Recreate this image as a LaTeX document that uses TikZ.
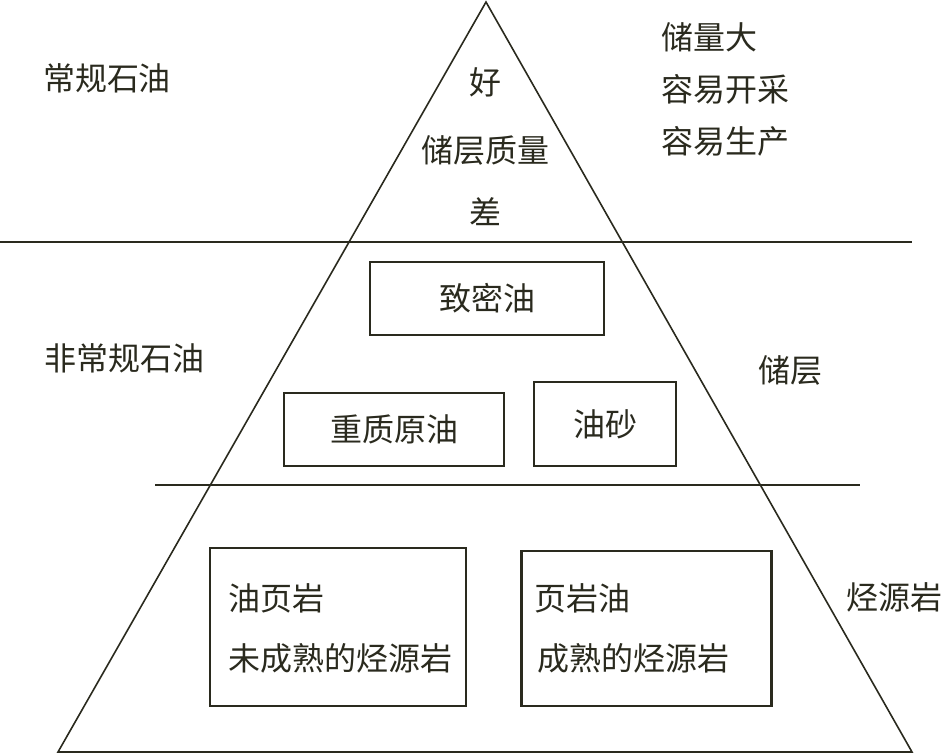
\documentclass[tikz,border=0pt]{standalone}
\usepackage{fontspec}
\setmainfont{Noto Sans CJK SC}
\usetikzlibrary{positioning}
\definecolor{ink}{HTML}{2A2A1E}

\begin{document}
\begin{tikzpicture}[x=1pt,y=-1pt,
  txt/.style={font=\fontsize{32}{38}\selectfont,text=ink,inner sep=0pt},
  oilbox/.style={draw=ink,line width=2.2pt,inner sep=0pt},
  layer/.style={draw=ink,line width=2pt}]
  \useasboundingbox (0,0) rectangle (946,755);
  % pyramid outline
  \coordinate (apex) at (486,2);
  \coordinate (baseL) at (58,752);
  \coordinate (baseR) at (912,752);
  \draw[ink,line width=1.6pt] (apex) -- (baseR) -- (baseL) -- cycle;
  % layer boundaries
  \coordinate (topL) at (0,242);
  \coordinate (topR) at (912,242);
  \coordinate (midL) at (155,485);
  \coordinate (midR) at (860,485);
  \draw[layer] (topL) -- (topR);
  \draw[layer] (midL) -- (midR);
  % conventional oil
  \node[txt] (conv) at (107,78) {常规石油};
  \node[txt] (good) at (485,82) {好};
  \node[txt] (quality) at (485,150) {储层质量};
  \node[txt] (poor) at (485,212) {差};
  \node[txt,anchor=west] (large) at (661,37) {储量大};
  \node[txt,anchor=west] (easyex) at (661,89) {容易开采};
  \node[txt,anchor=west] (easyprod) at (661,141) {容易生产};
  % unconventional oil, reservoir layer
  \node[txt] (unconv) at (125,358) {非常规石油};
  \node[txt] (reservoir) at (790,370) {储层};
  \node[oilbox,minimum width=234pt,minimum height=73pt] (tight) at (487,298.5) {};
  \node[txt] at (tight) {致密油};
  \node[oilbox,minimum width=220pt,minimum height=73pt] (heavy) at (394,429.5) {};
  \node[txt] at (heavy) {重质原油};
  \node[oilbox,minimum width=142pt,minimum height=84pt] (sand) at (605,424) {};
  \node[txt] at (sand) {油砂};
  % source rock layer
  \node[txt,anchor=west] (source) at (846,597) {烃源岩};
  \node[oilbox,minimum width=256pt,minimum height=158pt] (shalerock) at (338,627) {};
  \node[txt,anchor=west] (shalerockA) at (228,598) {油页岩};
  \node[txt,anchor=west] (shalerockB) at (228,658) {未成熟的烃源岩};
  \node[oilbox,minimum width=250pt,minimum height=155pt] (shaleoil) at (646.5,628.5) {};
  \node[txt,anchor=west] (shaleoilA) at (534,598) {页岩油};
  \node[txt,anchor=west] (shaleoilB) at (537,658) {成熟的烃源岩};
\end{tikzpicture}
\end{document}
